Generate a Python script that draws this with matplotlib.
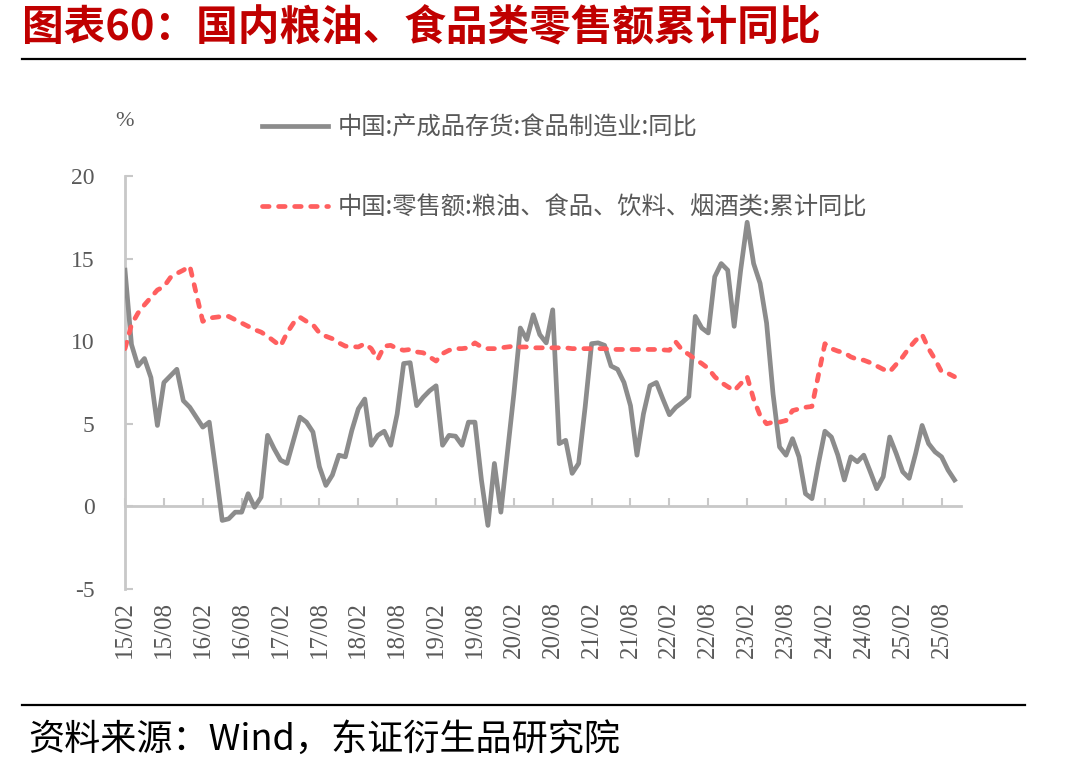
import numpy as np
import pandas as pd
import matplotlib
matplotlib.use("Agg")
import matplotlib.pyplot as plt
from matplotlib.lines import Line2D

plt.rcParams["font.family"] = ["Liberation Serif", "Noto Sans CJK SC"]
plt.rcParams["axes.unicode_minus"] = False

# monthly, 2015-02 .. 2025-10
months = pd.period_range("2015-02", "2025-10", freq="M")
month_labels = [f"{p.year % 100:02d}/{p.month:02d}" for p in months]

inventory_yoy = [
    14.3, 9.8, 8.5, 8.95, 7.8, 4.9, 7.5, 7.9, 8.3, 6.4, 6.0,
    5.4, 4.8, 5.1, 2.2, -0.85, -0.75, -0.35, -0.35, 0.77, -0.05, 0.56, 4.3,
    3.5, 2.8, 2.6, 4.0, 5.4, 5.1, 4.5, 2.4, 1.27, 1.9, 3.1, 3.0,
    4.6, 5.9, 6.5, 3.7, 4.3, 4.55, 3.7, 5.6, 8.65, 8.7, 6.1, 6.6,
    7.0, 7.3, 3.7, 4.3, 4.25, 3.7, 5.1, 5.1, 1.6, -1.15, 2.6, -0.35,
    3.2, 6.8, 10.8, 10.1, 11.6, 10.4, 9.9, 11.9, 3.8, 4.0, 2.0, 2.6,
    6.0, 9.85, 9.9, 9.75, 8.5, 8.3, 7.5, 6.1, 3.1, 5.6, 7.3, 7.5,
    6.5, 5.55, 6.0, 6.3, 6.65, 11.5, 10.8, 10.5, 13.9, 14.7, 14.3, 10.9,
    14.3, 17.2, 14.7, 13.5, 11.1, 6.8, 3.6, 3.1, 4.1, 3.0, 0.77, 0.47,
    2.6, 4.55, 4.2, 3.1, 1.6, 3.0, 2.7, 3.1, 2.1, 1.07, 1.8, 4.2,
    3.2, 2.1, 1.7, 3.2, 4.9, 3.8, 3.3, 3.0, 2.2, 1.6,
]

nan = np.nan
# cumulative retail sales yoy, no January print
retail_cum_yoy = [
    9.55, 11.0, 11.7, 12.2, 12.65, 13.1, 13.3, 13.85, 14.1, 14.3, 14.55,
    nan, 11.2, 11.4, 11.45, 11.5, 11.5, 11.3, 11.1, 10.9, 10.7, 10.55, 10.3,
    nan, 9.7, 10.5, 11.1, 11.45, 11.2, 11.0, 10.5, 10.3, 10.15, 9.9, 9.7,
    nan, 9.65, 9.85, 9.55, 8.9, 9.7, 9.75, 9.55, 9.45, 9.5, 9.35, 9.3,
    nan, 8.8, 9.25, 9.45, 9.55, 9.55, 9.6, 9.9, 9.65, 9.55, 9.55, 9.6,
    nan, 9.7, 9.65, 9.65, 9.6, 9.6, 9.6, 9.6, 9.6, 9.6, 9.55, 9.55,
    nan, 9.55, 9.55, 9.55, 9.5, 9.5, 9.5, 9.5, 9.5, 9.5, 9.5, 9.5,
    nan, 9.45, 9.95, 9.45, 9.2, 8.9, 8.65, 8.35, 7.85, 7.5, 7.25, 7.0,
    nan, 7.85, 6.5, 5.5, 5.0, 5.1, 5.1, 5.2, 5.8, 5.9, 6.0, 6.05,
    nan, 9.85, 9.55, 9.4, 9.3, 9.05, 8.9, 8.85, 8.7, 8.5, 8.3, 8.15,
    nan, 9.05, 9.6, 10.05, 10.4, 9.55, 8.9, 8.15, 8.05, 7.85,
]

label_inventory = "中国:产成品存货:食品制造业:同比"
label_retail = "中国:零售额:粮油、食品、饮料、烟酒类:累计同比"
title = "图表60：国内粮油、食品类零售额累计同比"
source = "资料来源：Wind，东证衍生品研究院"

cjk = ["Noto Sans CJK SC", "DejaVu Sans"]
grey = "#8c8c8c"
red = "#ff5f5f"
axis_grey = "#c8c8c8"
label_grey = "#595959"

fig = plt.figure(figsize=(10.84, 7.70), dpi=100)
ax = fig.add_axes([125 / 1084, 1 - 589 / 770, (961 - 125) / 1084, (589 - 176) / 770])

x = np.arange(len(months))
inv = np.array(inventory_yoy)
ret = np.array(retail_cum_yoy)
ok = ~np.isnan(ret)

ax.plot(x, inv, color=grey, lw=3.4, solid_joinstyle="round", zorder=3,
        label=label_inventory)
ax.plot(x[ok], ret[ok], color=red, lw=3.4, linestyle=(0, (1.4, 2.0)),
        dash_capstyle="round", zorder=4, label=label_retail)

ax.set_xlim(0, len(months))
ax.set_ylim(-5, 20)
ax.set_yticks([-5, 0, 5, 10, 15, 20])

ticks = x[::6]
ax.set_xticks(ticks)
ax.set_xticklabels([month_labels[i] for i in ticks], rotation=90)
ax.tick_params(axis="x", length=0, pad=9, labelsize=18, labelcolor=label_grey)
ax.tick_params(axis="y", direction="in", length=6, width=1.5, color=axis_grey,
               pad=22, labelsize=17, labelcolor=label_grey)

for side in ["top", "right", "bottom"]:
    ax.spines[side].set_visible(False)
ax.spines["left"].set_color(axis_grey)
ax.spines["left"].set_linewidth(2)

# zero line with inward ticks
zero_axis = ax.secondary_xaxis(0.2)
zero_axis.set_xticks(ticks)
zero_axis.tick_params(direction="in", length=6, width=1.5, color=axis_grey,
                      labelbottom=False)
zero_axis.spines["bottom"].set_color(axis_grey)
zero_axis.spines["bottom"].set_linewidth(2)

ax.annotate("%", xy=(0, 1), xycoords="axes fraction", xytext=(0, 54),
            textcoords="offset pixels", ha="center", va="center",
            fontsize=16, color=label_grey)

leg = ax.legend(loc="upper left", bbox_to_anchor=(262 / 1084, 1 - 115 / 770),
                bbox_transform=fig.transFigure, frameon=False,
                borderpad=0, borderaxespad=0, handlelength=2.7,
                handletextpad=0.4, labelspacing=2.2,
                prop={"family": cjk, "size": 17.5})
for t in leg.get_texts():
    t.set_color(label_grey)

fig.text(22 / 1084, 1 - 28 / 770, title, family=cjk, fontsize=30,
         fontweight="bold", color="#c00000", ha="left", va="center")
fig.add_artist(Line2D([22 / 1084, 1025 / 1084], [1 - 59 / 770, 1 - 59 / 770],
                      color="black", lw=1.6))
fig.add_artist(Line2D([22 / 1084, 1025 / 1084], [1 - 705 / 770, 1 - 705 / 770],
                      color="black", lw=1.6))
fig.text(28 / 1084, 1 - 740 / 770, source, family=cjk, fontsize=26,
         color="black", ha="left", va="center")

fig.savefig("out.png", dpi=100)
